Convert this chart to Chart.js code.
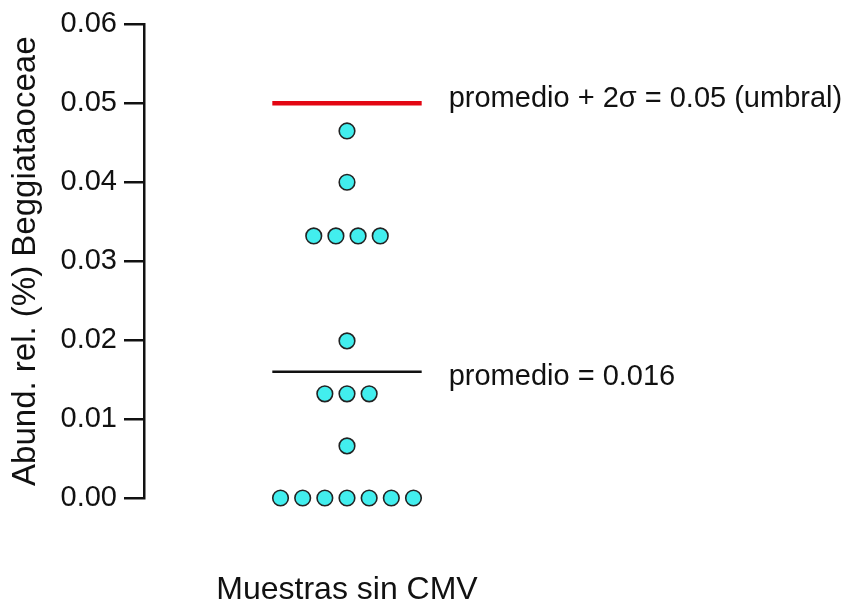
<!DOCTYPE html>
<html>
<head>
<meta charset="utf-8">
<script src="https://cdn.jsdelivr.net/npm/chart.js@4.4.1/dist/chart.umd.min.js"></script>
<style>
  html, body { margin: 0; padding: 0; background: #ffffff; }
  canvas { display: block; }
</style>
</head>
<body>
<canvas id="chart" width="846" height="606"></canvas>
<script>
// Relative abundance (%) of Beggiatoaceae, one point per sample
const sampleValues  = [0.0465, 0.0400, 0.0332, 0.0332, 0.0332, 0.0332, 0.0199, 0.0132, 0.0132, 0.0132, 0.0066, 0, 0, 0, 0, 0, 0, 0];
// Horizontal spread of tied points (in point widths) so they sit side by side
const sampleOffsets = [0, 0, -1.5, -0.5, 0.5, 1.5, 0, -1, 0, 1, 0, -3, -2, -1, 0, 1, 2, 3];
const meanValue = 0.016;
const thresholdValue = 0.05;
const yTicks = [0, 0.01, 0.02, 0.03, 0.04, 0.05, 0.06];
const groupLabel = 'Muestras sin CMV';
const yTitle = 'Abund. rel. (%) Beggiataoceae';

const FONT = '"Liberation Sans", Arial, Helvetica, sans-serif';
const INK = '#111111';
const LINE_HALF = 3.37;   // half length of the reference lines, in x units

const meanText = 'promedio = ' + meanValue.toFixed(3);
const thresholdText = 'promedio + 2\u03c3 = ' + thresholdValue.toFixed(2) + ' (umbral)';

const points = sampleValues.map((v, i) => ({ x: sampleOffsets[i], y: v }));

const lineLabels = {
  id: 'lineLabels',
  afterDatasetsDraw(chart) {
    const { ctx, scales: { x, y } } = chart;
    ctx.save();
    ctx.font = '29px ' + FONT;
    ctx.fillStyle = INK;
    ctx.textAlign = 'left';
    ctx.textBaseline = 'middle';
    const tx = x.getPixelForValue(LINE_HALF) + 27;
    ctx.fillText(thresholdText, tx, y.getPixelForValue(thresholdValue) - 4);
    ctx.fillText(meanText, tx, y.getPixelForValue(meanValue) + 5);
    ctx.restore();
  }
};

new Chart(document.getElementById('chart'), {
  type: 'scatter',
  data: {
    datasets: [
      {
        label: 'umbral',
        data: [{ x: -LINE_HALF, y: thresholdValue }, { x: LINE_HALF, y: thresholdValue }],
        showLine: true,
        borderColor: '#e30613',
        borderWidth: 4.5,
        pointRadius: 0,
        pointHoverRadius: 0
      },
      {
        label: 'promedio',
        data: [{ x: -LINE_HALF, y: meanValue }, { x: LINE_HALF, y: meanValue }],
        showLine: true,
        borderColor: INK,
        borderWidth: 2.5,
        pointRadius: 0,
        pointHoverRadius: 0
      },
      {
        label: groupLabel,
        data: points,
        clip: false,
        pointRadius: 7.8,
        pointBackgroundColor: '#42eeee',
        pointBorderColor: '#222222',
        pointBorderWidth: 1.6,
        showLine: false
      }
    ]
  },
  options: {
    responsive: false,
    animation: false,
    devicePixelRatio: 1,
    layout: { padding: { top: 20, right: 296, bottom: 0, left: 0 } },
    plugins: {
      legend: { display: false },
      tooltip: { enabled: false }
    },
    scales: {
      x: {
        type: 'linear',
        min: -9.16,
        max: 9.16,
        ticks: { display: false },
        grid: { display: false },
        border: { display: false },
        title: {
          display: true,
          text: groupLabel,
          color: INK,
          font: { family: FONT, size: 32, lineHeight: 1 },
          padding: { top: 0, bottom: 0 }
        },
        afterFit(scale) { scale.height = 108; }
      },
      y: {
        type: 'linear',
        min: 0,
        max: 0.06,
        afterBuildTicks(scale) { scale.ticks = yTicks.map(v => ({ value: v })); },
        ticks: {
          color: INK,
          padding: 7,
          font: { family: FONT, size: 29 },
          callback: v => Number(v).toFixed(2)
        },
        grid: {
          display: true,
          drawOnChartArea: false,
          drawTicks: true,
          tickLength: 20,
          color: INK,
          lineWidth: 2.5
        },
        border: { display: true, color: INK, width: 2.5 },
        title: {
          display: true,
          text: yTitle,
          color: INK,
          font: { family: FONT, size: 33, lineHeight: 1.2 },
          padding: { top: 6, bottom: 0 }
        },
        afterFit(scale) { scale.width = 144; }
      }
    }
  },
  plugins: [lineLabels]
});
</script>
</body>
</html>
